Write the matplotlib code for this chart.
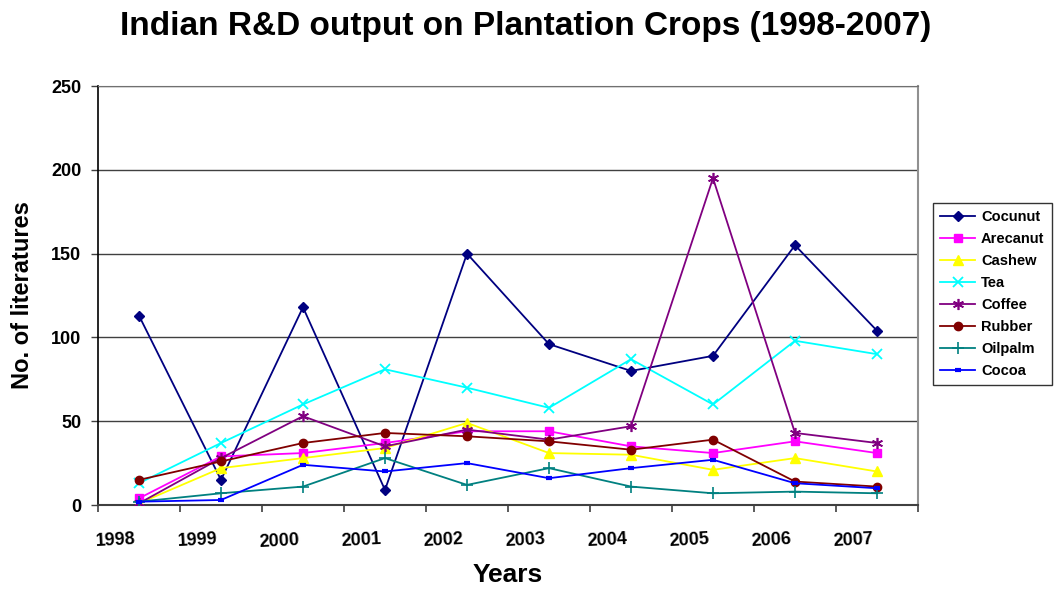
import matplotlib
matplotlib.use('Agg')
import matplotlib.pyplot as plt
from matplotlib.ticker import FixedLocator, NullFormatter

plt.rcParams['font.family'] = ['Liberation Sans', 'DejaVu Sans']
plt.rcParams['font.weight'] = 'bold'

# 年份及各作物的文献数量
years = ['1998', '1999', '2000', '2001', '2002', '2003', '2004', '2005', '2006', '2007']
cocunut = [113, 15, 118, 9, 150, 96, 80, 89, 155, 104]
arecanut = [4, 29, 31, 37, 44, 44, 35, 31, 38, 31]
cashew = [1, 22, 28, 34, 49, 31, 30, 21, 28, 20]
tea = [13, 37, 60, 81, 70, 58, 87, 60, 98, 90]
coffee = [1, 28, 53, 35, 45, 39, 47, 195, 43, 37]
rubber = [15, 26, 37, 43, 41, 38, 33, 39, 14, 11]
oilpalm = [2, 7, 11, 28, 12, 22, 11, 7, 8, 7]
cocoa = [2, 3, 24, 20, 25, 16, 22, 27, 13, 10]

series = [
    ('Cocunut', cocunut, '#000080', 'D', 5, 1.0),
    ('Arecanut', arecanut, '#FF00FF', 's', 6, 1.0),
    ('Cashew', cashew, '#FFFF00', '^', 7, 1.0),
    ('Tea', tea, '#00FFFF', 'x', 7, 1.3),
    ('Coffee', coffee, '#800080', (6, 2, 0), 8, 1.2),
    ('Rubber', rubber, '#800000', 'o', 6, 1.0),
    ('Oilpalm', oilpalm, '#008080', '+', 8, 1.2),
    ('Cocoa', cocoa, '#0000FF', '_', 5, 3.0),
]

fig = plt.figure(figsize=(10.57, 5.94), dpi=100)
ax = fig.add_axes([0.0927, 0.1498, 0.7758, 0.7054])

x = list(range(len(years)))
for name, vals, color, marker, ms, mew in series:
    ax.plot(x, vals, color=color, lw=1.3, marker=marker, markersize=ms,
            markerfacecolor=color, markeredgecolor=color, markeredgewidth=mew,
            label=name, zorder=3)

ax.set_xlim(-0.5, len(years) - 0.5)
ax.set_ylim(0, 250)
ax.set_yticks([0, 50, 100, 150, 200, 250])
ax.grid(axis='y', color='#404040', lw=1.0, zorder=1)

# 刻度线在类别边界，年份标签稍向右偏
ax.xaxis.set_major_locator(FixedLocator([i - 0.5 for i in range(len(years) + 1)]))
ax.xaxis.set_major_formatter(NullFormatter())
ax.xaxis.set_minor_locator(FixedLocator([i - 0.29 for i in range(len(years))]))
ax.set_xticklabels(years, minor=True, fontsize=13, fontweight='bold', rotation=3)
ax.tick_params(axis='x', which='minor', length=0, pad=19)
ax.tick_params(axis='x', which='major', length=5, width=1.2, color='#404040')
ax.tick_params(axis='y', length=5, width=1.0, pad=7, labelsize=13, color='#404040')
for lab in ax.get_yticklabels():
    lab.set_fontweight('bold')

ax.spines['left'].set_color('black')
ax.spines['left'].set_linewidth(1.2)
ax.spines['bottom'].set_color('#404040')
ax.spines['bottom'].set_linewidth(1.5)
ax.spines['right'].set_color('#909090')
ax.spines['right'].set_linewidth(1.5)
ax.spines['top'].set_color('#707070')

ax.set_xlabel('Years', fontsize=19, fontweight='bold', labelpad=9)
ax.set_ylabel('No. of literatures', fontsize=17, fontweight='bold', labelpad=12)
fig.suptitle('Indian R&D output on Plantation Crops (1998-2007)',
             fontsize=24, fontweight='bold', x=0.497, y=0.982)

leg = ax.legend(loc='center left', bbox_to_anchor=(0.8827, 0.505),
                bbox_transform=fig.transFigure, fancybox=False, frameon=True,
                edgecolor='black', fontsize=10.5, handlelength=2.4,
                labelspacing=0.55, borderpad=0.5, handletextpad=0.4,
                borderaxespad=0)
leg.get_frame().set_linewidth(1.0)
for t in leg.get_texts():
    t.set_fontweight('bold')

plt.savefig('out.png', dpi=100)
plt.close()
